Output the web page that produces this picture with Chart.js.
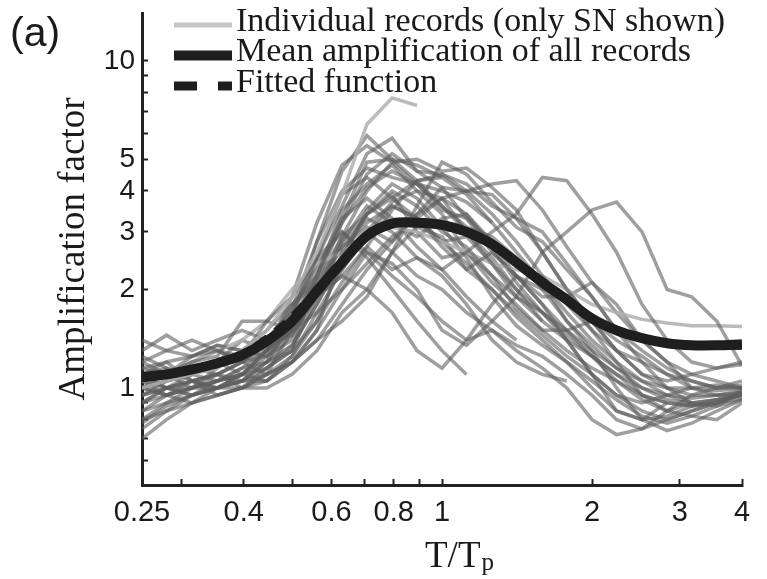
<!DOCTYPE html>
<html lang="en">
<head>
<meta charset="UTF-8">
<title>Amplification factor</title>
<script src="https://cdn.jsdelivr.net/npm/chart.js"></script>
<style>
    html, body { margin: 0; padding: 0; background: #fff; }
    #wrap { width: 767px; height: 579px; }
</style>
</head>
<body>
<div id="wrap"><canvas id="canvas"></canvas></div>
<script>
// T/Tp sampling used for every curve
const periodRatio = [0.25, 0.28, 0.315, 0.354, 0.397, 0.445, 0.5, 0.561, 0.63, 0.707, 0.794, 0.891,
    1, 1.12, 1.26, 1.41, 1.59, 1.78, 2, 2.24, 2.52, 2.83, 3.17, 3.56, 4];

const meanAmp   = [1.08, 1.10, 1.14, 1.19, 1.26, 1.39, 1.6, 1.98, 2.42, 2.92, 3.18, 3.2, 3.15, 3.0, 2.75, 2.42, 2.1, 1.86, 1.63, 1.5, 1.42, 1.37, 1.35, 1.35, 1.36];
const fittedAmp = [1.07, 1.09, 1.13, 1.18, 1.27, 1.42, 1.65, 2.0, 2.45, 2.9, 3.15, 3.2, 3.12, 2.97, 2.72, 2.4, 2.1, 1.85, 1.64, 1.5, 1.42, 1.37, 1.35, 1.34, 1.34];

// individual records (SN), null = record ends
const rec1  = [1.0, 1.05, 1.1, 1.15, 1.3, 1.5, 1.9, 2.6, 3.9, 6.4, 7.7, 7.3];
const rec2  = [1.2, 1.1, 1.25, 1.3, 1.2, 1.4, 1.7, 2.5, 3.6, 5.2, 5.8, 4.6, 4.5, 4.0, 3.4, 2.8, 2.2, 1.8, 1.5, 1.3, 1.2, 1.1, 1.05, 1.0, 1.0];
const rec3  = [0.75, 0.85, 0.95, 1.0, 1.05, 1.2, 1.6, 2.8, 4.6, 5.9, 5.0, 4.8, 4.4];
const rec4  = [1.1, 1.0, 0.95, 1.05, 1.1, 1.3, 1.8, 2.2, 3.2, 4.1, 4.6, 4.2, 3.5, 3.3, 2.8, 2.5, 2.1, 1.7, 1.4, 1.2, 1.05, 0.95, 0.9, 0.92, 0.95];
const rec5  = [0.9, 1.0, 1.05, 1.1, 1.0, 1.15, 1.3, 1.6, 2.1, 2.7, 3.5, 4.3, 4.5, 4.2, 3.6, 3.3, 2.6, 2.0, 1.6, 1.3, 1.1, 1.0, 0.95, 0.95, 0.98];
const rec6  = [1.3, 1.45, 1.3, 1.4, 1.5, 1.4, 1.6, 2.0, 2.8, 3.3, 3.0, 2.5, 2.3, 2.6, 3.0, 3.4, 4.4, 4.3, 3.4, 2.6, 1.8, 1.4, 1.2, 1.15, 1.18];
const rec7  = [1.05, 1.1, 1.2, 1.25, 1.6, 1.6, 1.5, 1.7, 2.0, 2.4, 2.9, 3.3, 3.8, 4.0, 3.9, 3.3, 3.0, 2.4, 1.9, 1.5, 1.3, 1.15, 1.05, 1.0, 1.02];
const rec8  = [0.8, 0.9, 1.0, 1.05, 1.1, 1.05, 1.2, 1.5, 2.0, 2.6, 2.4, 2.0, 1.5, 1.35, 1.6, 1.9, 2.6, 3.0, 3.5, 3.7, 3.0, 2.0, 1.9, 1.6, 1.17];
const rec9  = [1.0, 0.95, 1.0, 1.1, 1.2, 1.35, 1.45, 1.9, 2.3, 2.9, 3.6, 3.3, 2.7, 2.3, 2.6, 2.2, 1.8, 1.4, 1.1, 0.85, 0.8, 0.9];
const rec10 = [0.95, 1.05, 1.15, 1.1, 1.2, 1.1, 1.25, 1.6, 2.4, 3.0, 2.6, 2.2, 2.0, 1.7, 1.5, 1.35, 1.25, 1.1, 0.95, 0.8, 0.75, 0.8, 0.85, 0.9, 0.97];
const rec11 = [1.15, 1.2, 1.05, 1.0, 1.05, 1.15, 1.3, 2.2, 3.5, 4.2, 4.8, 4.0, 3.8, 3.0, 2.4, 1.9, 1.6, 1.4, 1.25, 1.1, 0.95, 0.9, 0.88, 0.9, 0.96];
const rec12 = [0.7, 0.8, 0.9, 0.95, 1.0, 1.1, 1.2, 1.5, 2.6, 3.4, 4.0, 3.6, 3.0, 2.7, 2.2, 1.75, 1.5, 1.5, 1.6, 1.4, 1.25, 1.1, 1.0, 0.98, 1.0];
const rec13 = [1.2, 1.3, 1.4, 1.3, 1.25, 1.6, 1.9, 2.5, 3.0, 2.6, 2.2, 1.9, 1.6, 1.4, 1.5, 1.3, 1.15, 1.0, 0.8, 0.72, 0.75, 0.85, 0.95, 1.0, 1.05];
const rec14 = [1.0, 1.1, 1.0, 1.15, 1.3, 1.25, 1.5, 1.9, 2.2, 2.0, 1.7, 1.3, 1.15, 1.4, 1.8, 2.2, 2.0, 1.9, 1.5, 1.2, 0.95, 0.85, 0.9];
const rec15 = [1.05, 1.1, 1.2, 1.3, 1.4, 1.6, 2.0, 2.4, 2.6, 2.9, 3.1, 3.0, 2.8, 2.6, 2.4, 2.3, 2.2, 2.0, 1.8, 1.7, 1.62, 1.58, 1.55, 1.55, 1.54];
const rec16 = [0.85, 0.95, 1.0, 1.0, 1.1, 1.2, 1.3, 1.9, 2.8, 3.6, 3.2, 2.9, 3.3, 3.4, 2.7, 2.1, 1.7, 1.4, 1.1, 0.95, 0.9, 0.95, 1.0];
const rec17 = [1.1, 1.2, 1.25, 1.35, 1.3, 1.5, 1.8, 2.1, 2.9, 4.0, 4.9, 5.0, 4.6, 4.7, 4.1, 3.5, 2.6, 2.0, 1.6, 1.3, 1.1, 1.05, 1.1, 1.15, 1.2];
const rec18 = [0.95, 1.0, 1.05, 0.95, 1.0, 1.05, 1.2, 1.4, 1.8, 2.3, 2.8, 3.4, 4.1, 4.0, 4.2, 4.3, 3.5, 2.7, 2.1, 1.7, 1.4, 1.2, 1.0, 0.95, 0.95];
const rec19 = [1.25, 1.15, 1.1, 1.2, 1.4, 1.3, 1.5, 2.3, 3.3, 3.8, 3.3, 2.7, 2.3, 1.9, 1.6, 1.4];
const rec20 = [0.9, 0.95, 1.05, 1.0, 1.1, 1.3, 1.7, 2.4, 3.0, 2.5, 2.0, 1.6, 1.3, 1.1];
const rec21 = [1.0, 1.05, 1.1, 1.2, 1.1, 1.25, 1.4, 2.0, 2.9, 3.4, 3.8, 4.3, 4.4, 3.9, 3.2, 2.6, 2.1, 1.6, 1.3, 1.0, 0.8, 0.74, 0.78, 0.85, 0.92];
const rec22 = [1.1, 1.0, 1.0, 1.05, 1.15, 1.2, 1.35, 1.8, 2.5, 3.4, 3.9, 3.0, 2.5, 2.6, 2.2, 1.9, 1.7, 1.5, 1.3, 1.15, 1.05, 1.0, 1.0, 1.02, 1.0];
const rec23 = [0.8, 0.85, 0.9, 1.0, 1.05, 1.1, 1.2, 1.4, 1.6, 1.9, 2.6, 3.1, 2.9, 2.3, 2.0, 1.65, 1.4, 1.2, 1.0, 0.85, 0.8, 0.82, 0.88, 0.92, 0.98];
const rec24 = [1.4, 1.3, 1.25, 1.35, 1.3, 1.4, 1.75, 2.8, 4.0, 4.7, 4.4, 4.2, 4.0, 3.7, 3.2];
const rec25 = [1.05, 0.95, 0.9, 0.95, 1.0, 1.0, 1.1, 1.3, 1.7, 2.0, 2.6, 3.6, 4.9, 4.5, 3.7, 3.1, 2.8, 2.3, 1.9, 1.5, 1.2, 1.0, 0.9, 0.88, 0.97];
const rec26 = [1.15, 1.1, 1.2, 1.3, 1.2, 1.3, 1.5, 1.9, 2.2, 2.7, 2.3, 2.5, 2.2, 1.8, 1.4, 1.2, 1.1, 1.05];
const rec27 = [0.9, 1.0, 1.1, 1.05, 1.15, 1.3, 1.5, 2.0, 2.7, 3.1, 2.8, 3.4, 3.8, 3.4, 2.8, 2.2, 1.9, 1.9, 2.1, 1.8, 1.4, 1.2, 1.1, 1.05, 1.0];
const rec28 = [1.0, 1.05, 1.1, 1.2, 1.25, 1.35, 1.6, 2.1, 3.2, 4.5, 5.2, 4.6, 4.1, 3.3, 2.6, 2.2, 1.8, 1.5, 1.25, 1.05, 0.92, 0.85, 0.82, 0.8, 0.9];
const rec29 = [1.0, 0.95, 1.0, 1.05, 1.1, 1.3, 1.9, 3.2, 4.8, 5.5, 4.9, 4.2, 3.6, 3.0, 2.5, 2.0, 1.7, 1.45, 1.25, 1.1, 1.0, 0.95, 0.93, 0.95, 0.97];
const rec30 = [0.85, 0.9, 0.95, 1.0, 1.0, 1.1, 1.5, 2.5, 3.9, 4.4, 3.8, 3.3, 2.8, 2.4, 2.0, 1.7, 1.45, 1.25, 1.1, 0.95, 0.85, 0.8, 0.85, 0.9, 0.95];
const rec31 = [1.1, 1.15, 1.05, 1.1, 1.2, 1.25, 1.5, 2.2, 3.3, 4.9, 5.0, 4.3, 3.6, 3.1, 2.9, 2.5, 2.0, 1.6, 1.35, 1.15, 1.0, 0.92, 0.9, 0.92, 0.95];
const rec32 = [0.95, 1.0, 1.05, 1.1, 1.05, 1.2, 1.45, 2.0, 2.7, 3.2, 3.6, 3.3, 2.8, 2.9, 2.4, 2.0, 1.6];
const rec33 = [1.05, 1.0, 0.95, 1.0, 1.05, 1.05, 1.25, 1.7, 2.3, 3.0, 3.7, 4.0, 3.4, 2.6, 2.1, 1.8, 1.5, 1.3, 1.15, 1.05, 0.95, 0.9, 0.88, 0.9, 0.93];
const rec34 = [0.78, 0.88, 0.95, 1.0, 1.1, 1.15, 1.35, 1.8, 2.5, 3.5, 4.2, 3.8, 3.1, 2.5, 1.9, 1.55, 1.35, 1.2, 1.05, 0.92, 0.82, 0.78, 0.82, 0.88, 0.92];

const records = [rec1, rec2, rec3, rec4, rec5, rec6, rec7, rec8, rec9, rec10, rec11, rec12, rec13, rec14,
    rec15, rec16, rec17, rec18, rec19, rec20, rec21, rec22, rec23, rec24, rec25, rec26, rec27, rec28,
    rec29, rec30, rec31, rec32, rec33, rec34];
const lightRecords = [0, 14];   // drawn in the lighter grey

const xTicks = [0.25, 0.3, 0.4, 0.5, 0.6, 0.7, 0.8, 0.9, 1, 2, 3, 4];
const xTickLabels = [0.25, 0.4, 0.6, 0.8, 1, 2, 3, 4];
const yTicks = [0.6, 0.7, 0.8, 0.9, 1, 2, 3, 4, 5, 6, 7, 8, 9, 10];
const yTickLabels = [1, 2, 3, 4, 5, 10];

const legendLabels = ['Individual records (only SN shown)', 'Mean amplification of all records', 'Fitted function'];

const SERIF = '"Liberation Serif", "Times New Roman", serif';
const SANS = '"Liberation Sans", Arial, sans-serif';

function toPoints(vals) {
    const pts = [];
    for (let i = 0; i < vals.length; i++) {
        if (vals[i] != null) pts.push({ x: periodRatio[i], y: vals[i] });
    }
    return pts;
}

const datasets = [];
datasets.push({
    label: legendLabels[1], data: toPoints(meanAmp), borderColor: '#1e1e1e', borderWidth: 10,
    tension: 0.35, order: 0
});
datasets.push({
    label: legendLabels[2], data: toPoints(fittedAmp), borderColor: '#1e1e1e', borderWidth: 7,
    borderDash: [14, 10], tension: 0.35, order: 1
});
records.forEach((r, i) => {
    const light = lightRecords.includes(i);
    datasets.push({
        label: legendLabels[0], data: toPoints(r),
        borderColor: light ? 'rgba(175,175,175,0.85)' : 'rgba(95,95,95,0.6)',
        borderWidth: 3.5, tension: 0, order: 2
    });
});

// legend, panel letter and x title drawn straight onto the canvas
const decor = {
    id: 'decor',
    afterDraw(chart) {
        const ctx = chart.ctx;
        ctx.save();
        ctx.fillStyle = '#1a1a1a';
        ctx.textBaseline = 'alphabetic';
        ctx.font = '41px ' + SANS;
        ctx.fillText('(a)', 10, 46);

        // x title T/Tp
        ctx.font = '37px ' + SERIF;
        const w1 = ctx.measureText('T/T').width;
        ctx.fillText('T/T', 425, 567);
        ctx.font = '25px ' + SERIF;
        ctx.fillText('p', 425 + w1 + 1, 570);

        // legend
        const styles = [
            { color: '#c6c6c6', width: 5, dash: [] },
            { color: '#1e1e1e', width: 10, dash: [] },
            { color: '#1e1e1e', width: 9, dash: [23, 21] }
        ];
        ctx.font = '34px ' + SERIF;
        ctx.textBaseline = 'middle';
        legendLabels.forEach((txt, i) => {
            const y = 25 + i * 30.5;
            ctx.beginPath();
            ctx.setLineDash(styles[i].dash);
            ctx.strokeStyle = styles[i].color;
            ctx.lineWidth = styles[i].width;
            ctx.moveTo(174, y);
            ctx.lineTo(232, y);
            ctx.stroke();
            ctx.setLineDash([]);
            ctx.fillStyle = '#1a1a1a';
            ctx.fillText(txt, 236, y - 3);
        });
        ctx.restore();
    }
};

const chart = new Chart(document.getElementById('canvas'), {
    type: 'line',
    data: { datasets: datasets },
    options: {
        responsive: true,
        maintainAspectRatio: false,
        animation: false,
        layout: { padding: { top: 13, right: 25, left: 0, bottom: 0 } },
        elements: { point: { radius: 0 } },
        plugins: { legend: { display: false }, tooltip: { enabled: false } },
        scales: {
            x: {
                type: 'logarithmic', min: 0.25, max: 4,
                afterFit: s => { s.height = 94; s.paddingLeft = 0; s.paddingRight = 0; },
                afterBuildTicks: s => { s.ticks = xTicks.map(v => ({ value: v })); },
                grid: { drawOnChartArea: false, tickLength: -6, tickWidth: 2, tickColor: '#222' },
                border: { display: true, color: '#222', width: 3 },
                ticks: {
                    autoSkip: false, maxRotation: 0, padding: 17, color: '#1a1a1a',
                    font: { family: SANS, size: 29 },
                    callback: v => xTickLabels.includes(v) ? String(v) : ''
                }
            },
            y: {
                type: 'logarithmic', min: 0.505, max: 14,
                afterFit: s => { s.width = 142; s.paddingTop = 0; s.paddingBottom = 0; },
                afterBuildTicks: s => { s.ticks = yTicks.map(v => ({ value: v })); },
                grid: { drawOnChartArea: false, tickLength: -6, tickWidth: 2, tickColor: '#222' },
                border: { display: true, color: '#222', width: 3 },
                title: {
                    display: true, text: 'Amplification factor', color: '#1a1a1a',
                    font: { family: SERIF, size: 37 }, padding: { top: 52, bottom: 0 }
                },
                ticks: {
                    autoSkip: false, padding: 13, color: '#1a1a1a',
                    font: { family: SANS, size: 28 },
                    callback: v => yTickLabels.includes(v) ? String(v) : ''
                }
            }
        }
    },
    plugins: [decor]
});
</script>
</body>
</html>
